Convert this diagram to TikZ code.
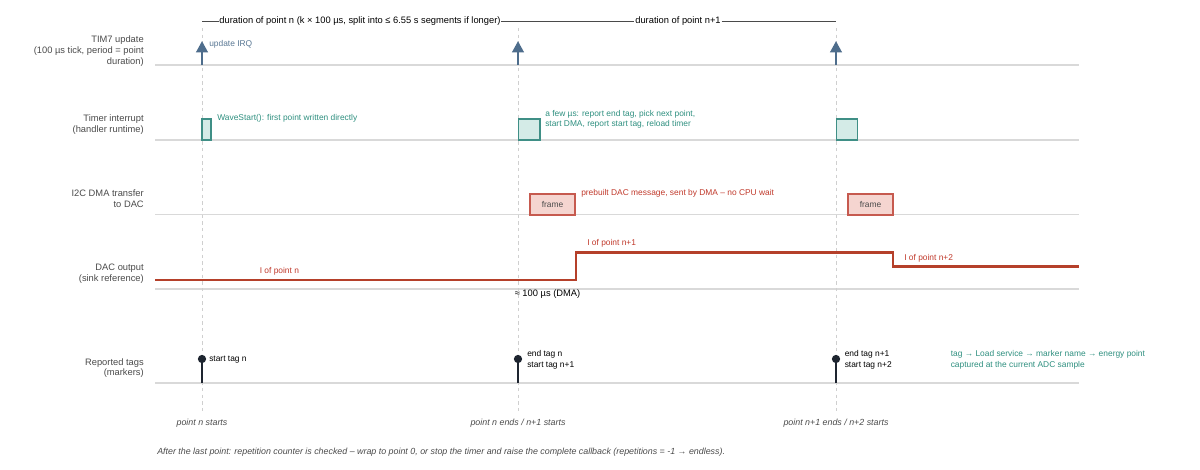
\documentclass[tikz,border=0pt]{standalone}
\usepackage{fontspec}
\setmainfont{Liberation Sans}
\usetikzlibrary{arrows.meta}

\definecolor{lblgray}{HTML}{4A4A4A}
\definecolor{lanegray}{HTML}{D9D9D9}
\definecolor{guidegray}{HTML}{CFCFCF}
\definecolor{irqblue}{HTML}{4E6D8C}
\definecolor{irqtext}{HTML}{5A7894}
\definecolor{tealline}{HTML}{3F8F86}
\definecolor{tealfill}{HTML}{D4EBE7}
\definecolor{tealtext}{HTML}{2E8F7F}
\definecolor{redline}{HTML}{C65A4F}
\definecolor{redfill}{HTML}{F5D5D0}
\definecolor{redtext}{HTML}{C0392B}
\definecolor{dacred}{HTML}{B5402A}
\definecolor{pincol}{HTML}{1E2530}

\begin{document}
\begin{tikzpicture}[x=0.75pt,y=-0.75pt,
  every node/.style={font=\fontsize{6.3}{7.9}\selectfont, inner sep=0pt},
  rowlabel/.style={anchor=east, align=right, text=lblgray, font=\fontsize{7}{8.1}\selectfont},
  lane/.style={draw=lanegray, line width=0.8pt},
  guide/.style={draw=guidegray, dash pattern=on 2.5pt off 2.5pt, line width=0.6pt},
  durline/.style={draw=lblgray, line width=0.6pt},
  title/.style={text=black, font=\fontsize{7}{8.4}\selectfont},
  irq/.style={draw=irqblue, line width=2.1pt, -{Triangle[width=8.5pt,length=8.5pt]}},
  isr/.style={draw=tealline, fill=tealfill, line width=0.8pt},
  frm/.style={draw=redline, fill=redfill, line width=0.8pt, text=lblgray,
    minimum width=33.75pt, minimum height=15.75pt},
  dac/.style={draw=dacred, line width=1.8pt},
  pinline/.style={draw=pincol, line width=1.1pt},
  note/.style={anchor=west, align=left},
  evt/.style={text=lblgray, font=\fontsize{6.65}{8}\selectfont\itshape}
]
\useasboundingbox (0,0) rectangle (1200,470);

\foreach \y in {65,140,214.5,289,383}
  \draw[lane] (155,\y) -- (1079,\y);
\foreach \x in {202,518,836}
  \draw[guide] (\x,28) -- (\x,412);

\node[rowlabel] (lTim) at (144,51) {TIM7 update\\(100 µs tick, period = point\\duration)};
\node[rowlabel] (lIsr) at (144,124.5) {Timer interrupt\\(handler runtime)};
\node[rowlabel] (lDma) at (144,199) {I2C DMA transfer\\to DAC};
\node[rowlabel] (lDac) at (144,274) {DAC output\\(sink reference)};
\node[rowlabel] (lTag) at (144,368) {Reported tags\\(markers)};

\coordinate (durA) at (202,21);
\coordinate (durC) at (836,21);
\node[title] (durN) at (360,21) {duration of point n (k × 100 µs, split into ≤ 6.55 s segments if longer)};
\node[title] (durN1) at (678,21) {duration of point n+1};
\draw[durline] (durA) -- ([xshift=-0.5pt]durN.west);
\draw[durline] ([xshift=0.5pt]durN.east) -- ([xshift=-0.5pt]durN1.west);
\draw[durline] ([xshift=0.5pt]durN1.east) -- (durC);

\foreach \x in {202,518,836}
  \draw[irq] (\x,65) -- (\x,41);
\node[note, text=irqtext] (irqLbl) at (209,44) {update IRQ};

\draw[isr] (202,119) rectangle (211,140);
\draw[isr] (518.5,119) rectangle (540,140);
\draw[isr] (836.5,119) rectangle (857.5,140);
\node[note, text=tealtext] (isrA) at (217,118.3) {WaveStart(): first point written directly};
\node[note, text=tealtext] (isrB) at (545,119.5) {a few µs: report end tag, pick next point,\\start DMA, report start tag, reload timer};

\node[frm] (frmB) at (552.5,204.5) {frame};
\node[frm] (frmC) at (870.5,204.5) {frame};
\node[note, text=redtext] (frmLbl) at (581,193.3) {prebuilt DAC message, sent by DMA – no CPU wait};

\draw[dac] (155,280) -- (576,280) -- (576,252.5) -- (893,252.5) -- (893,266.5) -- (1079,266.5);
\node[note, text=redtext] (iN) at (259.5,271.7) {I of point n};
\node[note, text=redtext] (iN1) at (587,243.3) {I of point n+1};
\node[note, text=redtext] (iN2) at (904,258.3) {I of point n+2};
\node[title] (dmaLat) at (547.5,294) {≈ 100 µs (DMA)};

\foreach \x in {202,518,836} {
  \draw[pinline] (\x,383) -- (\x,359);
  \fill[pincol] (\x,359) circle [radius=3.1pt];
}
\node[note, text=black] (tagA) at (209,359.7) {start tag n};
\node[note, text=black] (tagB) at (527,360) {end tag n\\start tag n+1};
\node[note, text=black] (tagC) at (844.5,360) {end tag n+1\\start tag n+2};
\node[note, text=tealtext] (tagNote) at (950.5,360) {tag → Load service → marker name → energy point\\captured at the current ADC sample};

\node[evt] (evA) at (202,423.3) {point n starts};
\node[evt] (evB) at (518,423.3) {point n ends / n+1 starts};
\node[evt] (evC) at (836,423.3) {point n+1 ends / n+2 starts};
\node[evt, anchor=west] (footer) at (157,452.3) {After the last point: repetition counter is checked – wrap to point 0, or stop the timer and raise the complete callback (repetitions = -1 → endless).};
\end{tikzpicture}
\end{document}
